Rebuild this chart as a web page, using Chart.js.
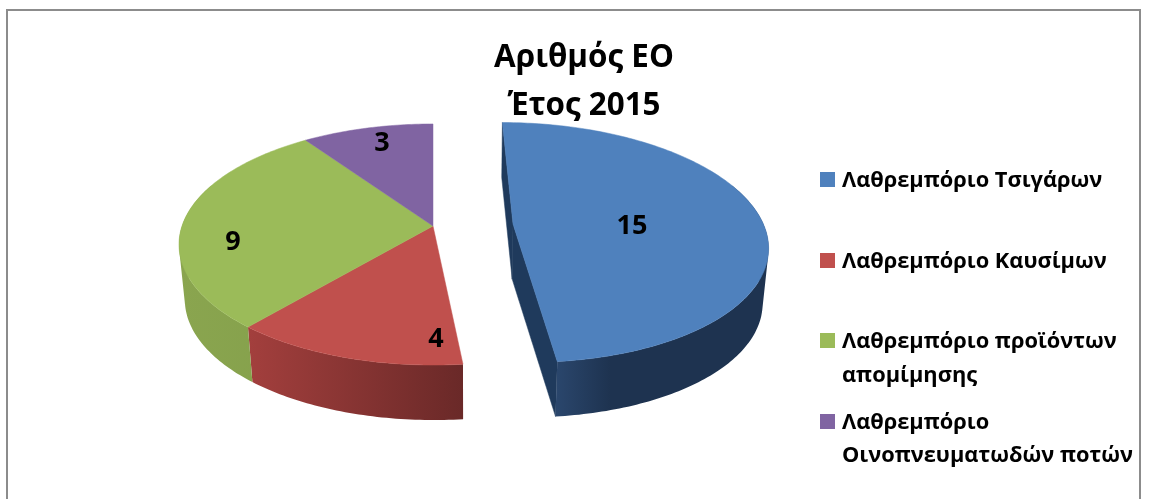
<!DOCTYPE html>
<html><head><meta charset="utf-8">
<style>html,body{margin:0;padding:0;background:#fff}#w{position:absolute;left:0;top:0;width:1149px;height:499px}</style>
<script src="https://cdn.jsdelivr.net/npm/chart.js@4"></script>
</head><body><div id="w"><canvas id="c" width="1149" height="499"></canvas></div>
<script>
const categories = ["Λαθρεμπόριο Τσιγάρων","Λαθρεμπόριο Καυσίμων","Λαθρεμπόριο προϊόντων απομίμησης","Λαθρεμπόριο Οινοπνευματωδών ποτών"];
const values = [15,4,9,3];
const titleLines = ["Αριθμός ΕΟ","Έτος 2015"];
const colors = ["#4f81bd","#c0504d","#9bbb59","#8064a2"];
const explode = [0.32,0,0,0];
const wallFrom = ["#2a466c","#a33f3d","#8aa54f","#6b5388"];
const wallTo = ["#1e3350","#6a2928","#84a04b","#5a4672"];
const labelSpots = [[632,226],[436,339],[233,242],[382,143]];
const legendRows = [
 {swatch:172,lines:[["Λαθρεμπόριο Τσιγάρων",187]]},
 {swatch:253,lines:[["Λαθρεμπόριο Καυσίμων",268]]},
 {swatch:333,lines:[["Λαθρεμπόριο προϊόντων",348],["απομίμησης",382]]},
 {swatch:414,lines:[["Λαθρεμπόριο",429],["Οινοπνευματωδών ποτών",462]]}
];
const FONT = '"Open Sans", Lato, sans-serif';
const P = {R:251,K:117.7,p:0.1535,cx:433,cy:226,h:55,vx:470,t:0.98};
function proj(u,v){const s=1/(1+P.p*v);return [P.cx+P.R*u*s,P.cy-P.K*v*s];}
function drop(q){return [P.vx+(q[0]-P.vx)*P.t,q[1]+P.h];}
function rimPts(a,i){
  const e=explode[i],mid=(a.startAngle+a.endAngle)/2,ou=e*Math.cos(mid),ov=-e*Math.sin(mid),pts=[],back=[];
  const n=Math.max(8,Math.ceil((a.endAngle-a.startAngle)*60));
  for(let k=0;k<=n;k++){const t=a.startAngle+(a.endAngle-a.startAngle)*k/n;
    pts.push(proj(ou+Math.cos(t),ov-Math.sin(t)));back.push(-Math.sin(t)>0.35);}
  return {pts,back,apex:proj(ou,ov)};
}
function area(q){let s=0;q.forEach((p,i)=>{const r=q[(i+1)%q.length];s+=p[0]*r[1]-r[0]*p[1];});return s;}
function addPoly(ctx,q){const o=area(q)<0?q.slice().reverse():q;o.forEach((p,j)=>j?ctx.lineTo(p[0],p[1]):ctx.moveTo(p[0],p[1]));ctx.closePath();}
function poly(ctx,pts,fill){ctx.beginPath();addPoly(ctx,pts);ctx.fillStyle=fill;ctx.fill();ctx.strokeStyle=fill;ctx.lineWidth=0.5;ctx.stroke();}
const pie3d={id:'pie3d',
 beforeDraw(chart){const c=chart.ctx;c.save();c.fillStyle='#fff';c.fillRect(0,0,1149,499);
   c.strokeStyle='#8c8c8c';c.lineWidth=2;c.strokeRect(7,10,1133,520);c.restore();},
 beforeDatasetDraw(chart,args){
  const c=chart.ctx,arcs=args.meta.data;c.save();
  arcs.forEach((a,i)=>{
    const {pts,back,apex}=rimPts(a,i);
    if(explode[i]>0){
      const first=pts[0],last=pts[pts.length-1];
      poly(c,[first,apex,drop(apex),drop(first)],'#1f3a5c');
      poly(c,[apex,last,drop(last),drop(apex)],'#1f3a5c');
    }
    const x0=Math.min(...pts.map(q=>q[0])),x1=Math.max(...pts.map(q=>q[0]));
    const g=c.createLinearGradient(i===0?pts[pts.length-1][0]:x0,0,x1,0);
    if(i===0){g.addColorStop(0,wallFrom[i]);g.addColorStop(0.25,wallTo[i]);g.addColorStop(1,wallTo[i]);}
    else{g.addColorStop(0,wallFrom[i]);g.addColorStop(1,wallTo[i]);}
    c.beginPath();
    for(let k=0;k<pts.length-1;k++){
      if(back[k]&&back[k+1])continue;
      addPoly(c,[pts[k],pts[k+1],drop(pts[k+1]),drop(pts[k])]);
    }
    c.fillStyle=g;c.fill();
  });
  arcs.forEach((a,i)=>{const {pts,apex}=rimPts(a,i);poly(c,[apex].concat(pts),colors[i]);});
  c.restore();return false;
 },
 afterDraw(chart){
  const c=chart.ctx;c.save();c.fillStyle='#000';
  c.font='bold 27px '+FONT;c.textAlign='center';c.textBaseline='middle';
  values.forEach((v,i)=>c.fillText(String(v),labelSpots[i][0],labelSpots[i][1]));
  c.textAlign='left';c.textBaseline='alphabetic';c.font='bold 21.8px '+FONT;
  legendRows.forEach((r,i)=>{c.fillStyle=colors[i];c.fillRect(820,r.swatch,15,15);c.fillStyle='#000';
    r.lines.forEach(l=>c.fillText(l[0],842,l[1]));});
  c.restore();
 }};
new Chart(document.getElementById('c'),{type:'pie',plugins:[pie3d],
 data:{labels:categories,datasets:[{data:values,backgroundColor:colors,borderWidth:0}]},
 options:{responsive:false,animation:false,events:[],layout:{padding:{left:19,top:0}},
  plugins:{legend:{display:false},tooltip:{enabled:false},
   title:{display:true,fullSize:false,text:titleLines,color:'#000',font:{family:FONT,size:31.4,weight:'bold',lineHeight:1.5},padding:{top:35,bottom:0}}}}});
</script></body></html>
